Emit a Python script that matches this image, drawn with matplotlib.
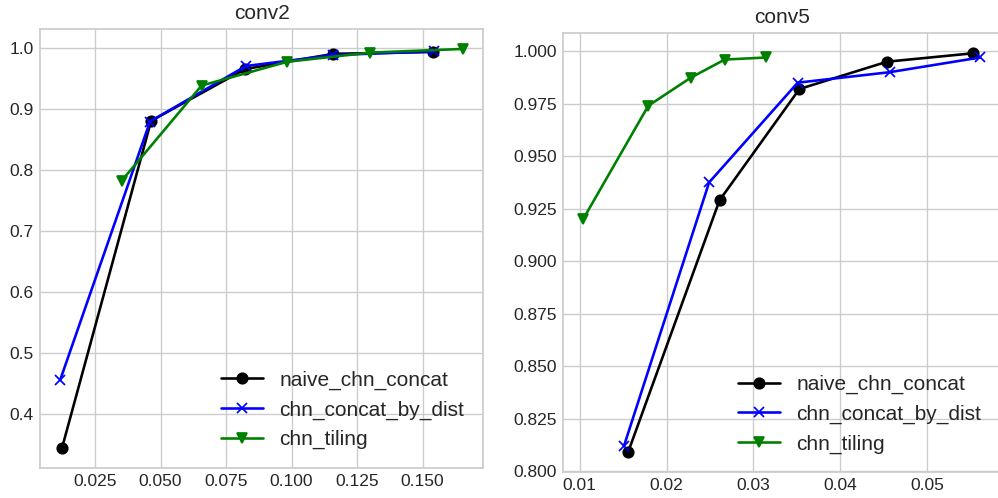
import matplotlib
matplotlib.use("Agg")
import matplotlib.pyplot as plt

plt.style.use("seaborn-v0_8-whitegrid")
plt.rcParams["font.family"] = ["Liberation Sans", "DejaVu Sans"]

# conv2 results
conv2_naive_x = [0.0124, 0.0464, 0.0823, 0.1160, 0.1540]
conv2_naive_y = [0.3435, 0.880, 0.965, 0.990, 0.993]
conv2_dist_x = [0.0117, 0.0460, 0.0826, 0.1160, 0.1544]
conv2_dist_y = [0.455, 0.879, 0.970, 0.988, 0.994]
conv2_tile_x = [0.0352, 0.0657, 0.0984, 0.1300, 0.1654]
conv2_tile_y = [0.782, 0.938, 0.977, 0.992, 0.998]

# conv5 results
conv5_naive_x = [0.01557, 0.0261, 0.0353, 0.0454, 0.0553]
conv5_naive_y = [0.809, 0.929, 0.982, 0.995, 0.999]
conv5_dist_x = [0.0151, 0.0249, 0.0351, 0.0457, 0.0561]
conv5_dist_y = [0.812, 0.9375, 0.985, 0.990, 0.997]
conv5_tile_x = [0.0104, 0.0179, 0.0228, 0.0267, 0.0315]
conv5_tile_y = [0.920, 0.974, 0.9874, 0.996, 0.997]

labels = ["naive_chn_concat", "chn_concat_by_dist", "chn_tiling"]

fig = plt.figure(figsize=(998 / 125, 498 / 125), dpi=125)
ax1 = fig.add_axes([0.0401, 0.0602, 0.4439, 0.8816])
ax2 = fig.add_axes([0.5644, 0.0516, 0.4376, 0.8815])

panels = [
    (ax1, "conv2", conv2_naive_x, conv2_naive_y, conv2_dist_x, conv2_dist_y, conv2_tile_x, conv2_tile_y),
    (ax2, "conv5", conv5_naive_x, conv5_naive_y, conv5_dist_x, conv5_dist_y, conv5_tile_x, conv5_tile_y),
]

for ax, title, nx, ny, dx, dy, tx, ty in panels:
    ax.plot(nx, ny, color="black", marker="o", label=labels[0])
    ax.plot(dx, dy, color="blue", marker="x", label=labels[1])
    ax.plot(tx, ty, color="green", marker="v", label=labels[2])
    ax.set_title(title)
    ax.legend(loc="lower right", fontsize="large")

fig.savefig("out.png", dpi=125)
